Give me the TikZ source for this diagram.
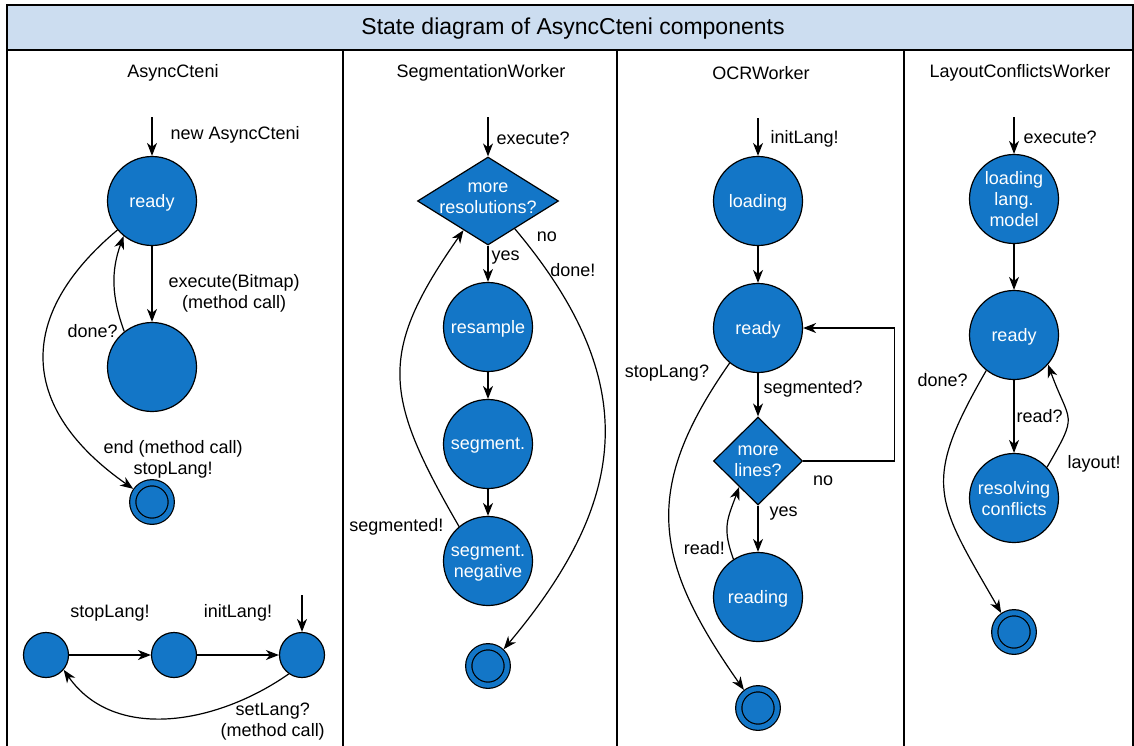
\documentclass[tikz,border=0pt]{standalone}
\usepackage{fontspec}
\setmainfont{Liberation Sans}
\usetikzlibrary{arrows.meta, automata, positioning, shapes.geometric}
\definecolor{stateblue}{RGB}{19,118,199}
\definecolor{laneblue}{RGB}{204,221,240}
\newcommand*{\diafont}{\fontsize{18}{21}\selectfont}

\begin{document}
\begin{tikzpicture}[x=1pt, y=-1pt, on grid, line width=1.2pt,
    >={Stealth[length=13pt, width=10pt, inset=4pt]},
    font=\diafont, align=center,
    every state/.style={draw=black, fill=stateblue, minimum size=89pt, inner sep=0pt, text=white, text depth=0pt},
    smallstate/.style={state, minimum size=45pt},
    endstate/.style={state, minimum size=38.5pt, double=stateblue, double distance=5pt, outer sep=3.7pt},
    decision/.style={diamond, draw=black, fill=stateblue, inner sep=0pt},
    dlabel/.style={text=white, align=center, inner sep=0pt},
    lbl/.style={inner sep=2pt},
    lane/.style={line width=1.6pt}]
  \useasboundingbox (0,0) rectangle (1134,745);

  % lanes
  \fill[laneblue] (7,5) rectangle (1133,50);
  \draw[lane] (7,5) rectangle (1133,760);
  \draw[lane] (7,50) -- (1133,50);
  \foreach \x in {343,617,904}
    \draw[lane] (\x,50) -- (\x,760);
  \node[font=\fontsize{23}{27}\selectfont] (title) at (573,29) {State diagram of AsyncCteni components};
  \node (h_async) at (173,73) {AsyncCteni};
  \node (h_seg) at (481,73) {SegmentationWorker};
  \node (h_ocr) at (761,73) {OCRWorker};
  \node (h_layout) at (1020,73) {LayoutConflictsWorker};

  % AsyncCteni
  \node[state] (ac_ready) at (152,201) {ready};
  \node[state] (ac_busy) [below=166pt of ac_ready] {};
  \node[endstate] (ac_end) [below=135pt of ac_busy] {};
  \coordinate (ac_start) at (152,117);
  \path[->]
    (ac_start) edge node[lbl, pos=0.45, right=16pt] {new AsyncCteni} (ac_ready)
    (ac_ready) edge node[lbl, pos=0.62, right=14pt] {execute(Bitmap)\\(method call)} (ac_busy)
    (ac_busy.128) edge[out=110, in=250] node[lbl, at start, left=4pt] {done?} (ac_ready.231)
    (ac_ready.220) edge[out=220, in=145, looseness=1.35]
      node[lbl, at end, xshift=40pt, yshift=30pt] {end (method call)\\stopLang!} (ac_end.145);

  \node[smallstate] (ac_off) at (46,655) {};
  \node[smallstate] (ac_stop) [right=128pt of ac_off] {};
  \node[smallstate] (ac_load) [right=128pt of ac_stop] {};
  \coordinate (ac_start2) at (302,595);
  \path[->]
    (ac_start2) edge (ac_load)
    (ac_off) edge node[lbl, yshift=42pt] {stopLang!} (ac_stop)
    (ac_stop) edge node[lbl, yshift=42pt] {initLang!} (ac_load)
    (ac_load.235) edge[out=215, in=305]
      node[lbl, at start, xshift=-16pt, yshift=-48pt] {setLang?\\(method call)} (ac_off.320);

  % SegmentationWorker
  \node[decision, minimum width=141pt, minimum height=88pt,
    label={[dlabel, yshift=3pt]center:{more\\resolutions?}}] (sw_more) at (488,201) {};
  \node[state] (sw_resample) [below=126pt of sw_more] {resample};
  \node[state] (sw_segment) [below=117pt of sw_resample] {segment.};
  \node[state] (sw_negative) [below=117pt of sw_segment] {segment.\\negative};
  \node[endstate] (sw_end) [below=105pt of sw_negative] {};
  \coordinate (sw_start) at (488,117);
  \path[->]
    (sw_start) edge node[lbl, pos=0.55, right=6pt] {execute?} (sw_more)
    (sw_more) edge node[lbl, pos=0.32, right=1pt] {yes} (sw_resample)
    (sw_resample) edge (sw_segment)
    (sw_segment) edge (sw_negative)
    (sw_negative.130) edge[out=120, in=235, looseness=1.3]
      node[lbl, at start, left=13pt] {segmented!} (sw_more.230)
    (sw_more.314) edge[out=-50, in=50, looseness=1.2]
      node[lbl, at start, xshift=32pt, yshift=-8pt] {no}
      node[lbl, at start, xshift=58pt, yshift=-41pt] {done!} (sw_end.47);

  % OCRWorker
  \node[state] (ocr_loading) at (758,201) {loading};
  \node[state] (ocr_ready) [below=127pt of ocr_loading] {ready};
  \node[decision, minimum width=89pt, minimum height=88pt,
    label={[dlabel]center:{more\\lines?}}] (ocr_more) [below=133pt of ocr_ready] {};
  \node[state] (ocr_reading) [below=136pt of ocr_more] {reading};
  \node[endstate] (ocr_end) [below=111pt of ocr_reading] {};
  \coordinate (ocr_start) at (758,118);
  \path[->]
    (ocr_start) edge node[lbl, pos=0.55, right=10pt] {initLang!} (ocr_loading)
    (ocr_loading) edge (ocr_ready)
    (ocr_ready) edge node[lbl, pos=0.37, right=3pt] {segmented?} (ocr_more)
    (ocr_more) edge node[lbl, pos=0.17, right=9pt] {yes} (ocr_reading)
    (ocr_reading.123) edge[out=110, in=250, looseness=1.2]
      node[lbl, at start, anchor=east, xshift=-6pt, yshift=11pt] {read!} (ocr_more.234)
    (ocr_ready.231) edge[out=235, in=125, looseness=1.22]
      node[lbl, at start, anchor=east, xshift=-18pt, yshift=-10pt] {stopLang?} (ocr_end.128);
  \draw[->] (ocr_more.east) -- node[lbl, pos=0.22, below=12pt] {no} ++(91,0) |- (ocr_ready.east);

  % LayoutConflictsWorker
  \node[state] (lc_loading) at (1014,199) {loading\\lang.\\model};
  \node[state] (lc_ready) [below=136pt of lc_loading] {ready};
  \node[state] (lc_resolve) [below=163pt of lc_ready] {resolving\\conflicts};
  \node[endstate] (lc_end) [below=134pt of lc_resolve] {};
  \coordinate (lc_start) at (1014,117);
  \path[->]
    (lc_start) edge node[lbl, pos=0.55, right=7pt] {execute?} (lc_loading)
    (lc_loading) edge (lc_ready)
    (lc_ready) edge node[lbl, pos=0.5, right=0pt] {read?} (lc_resolve)
    (lc_resolve.43) edge[out=60, in=290, looseness=1.6]
      node[lbl, at start, anchor=west, xshift=18pt, yshift=3pt] {layout!} (lc_ready.319)
    (lc_ready.232) edge[out=240, in=120, looseness=1.38]
      node[lbl, at start, anchor=east, xshift=-16pt, yshift=-10pt] {done?} (lc_end.124);
\end{tikzpicture}
\end{document}
